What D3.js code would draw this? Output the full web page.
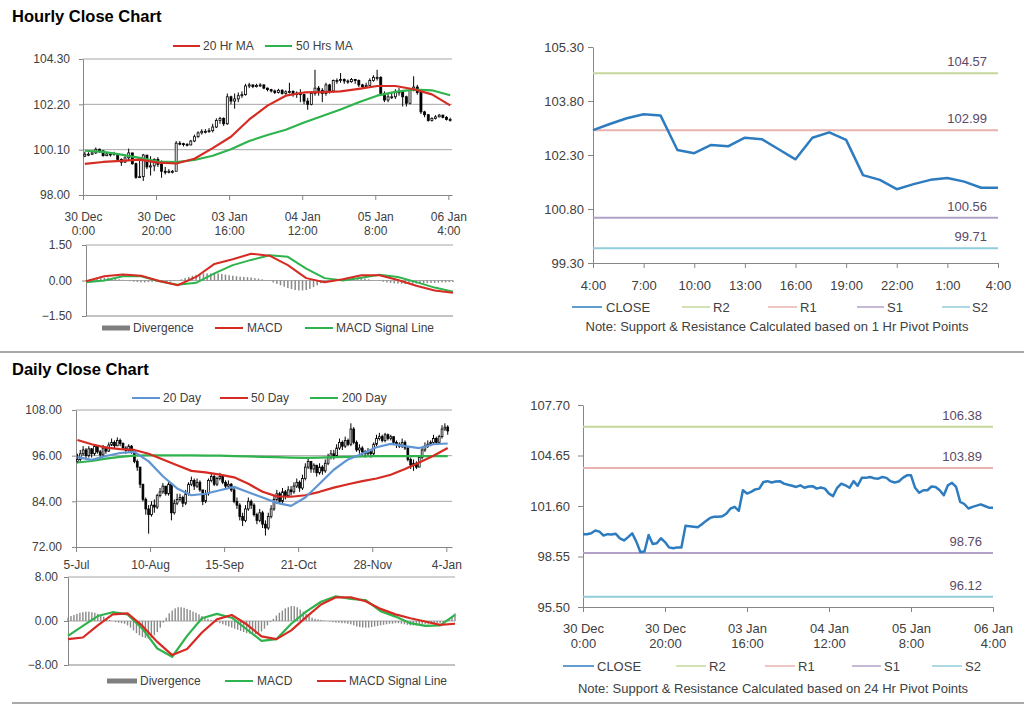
<!DOCTYPE html>
<html><head><meta charset="utf-8">
<script src="https://cdn.jsdelivr.net/npm/d3@7/dist/d3.min.js"></script>
<style>body{margin:0;background:#fff;} svg{display:block;}</style>
</head><body><svg id="c" width="1024" height="706"></svg>
<script>
// ---------------- DATA ----------------
// Hourly bars (30 Dec 0:00 -> 06 Jan 4:00), 101 bars
const hourTickIdx = [0, 20, 40, 60, 80, 100];
const hourTickLine1 = ["30 Dec", "30 Dec", "03 Jan", "04 Jan", "05 Jan", "06 Jan"];
const hourTickLine2 = ["0:00", "20:00", "16:00", "12:00", "8:00", "4:00"];
const hourlyFirstOpen = 99.80;
const hourlyClose = [99.89,99.89,99.95,100.12,100.05,99.82,99.9,99.88,99.92,99.65,
99.52,99.72,99.95,99.45,98.82,98.85,99.85,99.3,99.35,99.65,
99.42,99.1,99.05,99.1,99.1,100.4,100.38,100.35,100.32,100.5,
100.7,100.88,100.95,100.95,100.98,101.15,101.45,101.55,101.3,102.55,
102.35,102.45,102.6,102.65,103.05,103.1,103.02,103.08,103.1,102.95,
102.88,102.82,102.75,102.85,102.7,102.78,102.8,102.65,102.72,102.65,
102.35,102.2,102.7,102.95,102.85,102.7,103.1,102.82,103.3,103.3,
103.35,103.28,103.25,103.35,103.3,103.1,103.02,103.08,103.3,103.45,
103.45,102.7,102.4,102.55,102.55,102.78,102.75,102.55,102.25,102.85,
103.0,102.75,101.85,101.72,101.45,101.55,101.62,101.7,101.6,101.5,
101.5];
const hourlyHigh = [100.0,99.98,100.05,100.2,100.15,100.05,99.98,99.95,100.0,99.92,
99.7,99.8,100.15,99.95,99.5,99.7,99.9,99.85,99.8,99.7,
99.75,99.6,99.3,99.2,99.15,100.5,100.5,100.42,100.4,100.55,
100.8,100.95,101.05,101.05,101.1,101.3,101.55,101.62,101.6,102.7,
102.6,102.7,102.75,102.8,103.15,103.2,103.12,103.15,103.18,103.12,
102.98,102.92,102.88,102.92,102.9,102.85,103.2,102.85,102.8,102.9,
102.7,102.5,102.8,103.8,103.05,102.95,103.2,103.15,103.35,103.4,
103.65,103.4,103.35,103.42,103.38,103.35,103.15,103.2,103.4,103.55,
103.8,103.5,102.8,102.7,102.75,102.9,102.95,102.8,102.6,102.95,
103.5,103.1,102.8,101.9,101.75,101.6,101.7,101.75,101.72,101.65,
101.58];
const hourlyLow = [99.75,99.8,99.85,99.9,99.95,99.78,99.8,99.78,99.82,99.6,
99.35,99.5,99.6,99.4,98.75,98.8,98.65,99.2,98.9,99.1,
99.3,98.8,98.95,99.0,99.0,100.0,100.3,100.25,100.25,100.3,
100.45,100.65,100.8,100.85,100.88,100.9,101.1,101.3,101.2,101.25,
102.2,102.0,102.3,102.5,102.6,102.95,102.95,102.98,103.0,102.9,
102.8,102.75,102.68,102.7,102.65,102.65,102.7,102.55,102.5,102.3,
102.2,101.95,102.15,102.6,102.6,102.3,102.6,102.7,102.75,103.15,
103.2,103.15,103.15,103.2,103.15,103.0,102.95,102.98,103.05,103.25,
103.3,102.6,102.3,102.3,102.45,102.45,102.6,102.1,102.1,102.2,
102.8,102.65,101.75,101.6,101.4,101.4,101.5,101.6,101.55,101.45,
101.4];
// moving averages sampled every 5 bars
const hourlyMaIdx = [0,5,10,15,20,25,30,35,40,45,50,55,60,65,70,75,80,85,90,95,100];
const hourlyMa20 = [99.44,99.53,99.58,99.64,99.5,99.46,99.68,100.17,100.7,101.5,102.14,102.6,102.75,102.77,102.8,102.92,103.05,103.05,102.9,102.66,102.15];
const hourlyMa50 = [100.05,100.0,99.87,99.72,99.55,99.52,99.62,99.82,100.12,100.5,100.78,101.02,101.36,101.66,101.96,102.3,102.6,102.78,102.88,102.85,102.62];
const hourlyMacd = [-0.03,0.18,0.25,0.2,-0.02,-0.2,0.15,0.7,0.9,1.13,1.05,0.65,0.1,-0.07,0.05,0.22,0.22,0.02,-0.22,-0.42,-0.52];
const hourlySignal = [-0.07,0.0,0.18,0.18,-0.03,-0.18,-0.1,0.3,0.65,0.87,1.07,1.0,0.5,0.1,0.0,0.12,0.24,0.15,-0.07,-0.3,-0.47];
const hourlyDiverg = [0.02,0.04,0.06,0.08,0.1,0.12,0.12,0.1,0.08,0.05,
0.03,0.0,-0.03,-0.05,-0.07,-0.08,-0.08,-0.07,-0.06,-0.05,
-0.05,-0.06,-0.07,-0.05,-0.03,0.0,0.05,0.1,0.15,0.2,
0.24,0.28,0.3,0.3,0.3,0.32,0.3,0.28,0.25,0.22,
0.2,0.18,0.16,0.15,0.14,0.13,0.1,0.08,0.05,0.02,
-0.02,-0.08,-0.14,-0.2,-0.26,-0.32,-0.36,-0.4,-0.42,-0.42,
-0.4,-0.35,-0.28,-0.2,-0.12,-0.06,-0.02,0.0,0.02,0.04,
0.06,0.08,0.09,0.1,0.1,0.1,0.08,0.05,0.02,0.0,
-0.02,-0.05,-0.08,-0.1,-0.12,-0.13,-0.14,-0.15,-0.15,-0.14,
-0.13,-0.12,-0.12,-0.11,-0.1,-0.1,-0.09,-0.08,-0.08,-0.07,
-0.06];
const hourlyYTicks = [98.00, 100.10, 102.20, 104.30];
const hourlyMacdTicks = [-1.50, 0.00, 1.50];

// 1-hour pivot chart (04:00 -> 04:00)
const pivotHourLabels = ["4:00","7:00","10:00","13:00","16:00","19:00","22:00","1:00","4:00"];
const pivotHourClose = [102.99,103.16,103.32,103.43,103.40,102.44,102.35,102.58,102.54,102.78,102.74,102.46,102.18,102.78,102.93,102.72,101.74,101.61,101.35,101.49,101.61,101.66,101.56,101.39,101.39];
const pivotHourYTicks = [99.30, 100.80, 102.30, 103.80, 105.30];
const pivotHourLevels = [104.57, 102.99, 100.56, 99.71];

// 24-hour pivot chart (same hourly closes)
const pivotDayYTicks = [95.50, 98.55, 101.60, 104.65, 107.70];
const pivotDayLevels = [106.38, 103.89, 98.76, 96.12];
const levelNames = ["R2", "R1", "S1", "S2"];

// Daily bars (5-Jul -> 4-Jan), 131 bars
const dayTickIdx = [0, 26, 52, 78, 104, 130];
const dayTickLabels = ["5-Jul", "10-Aug", "15-Sep", "21-Oct", "28-Nov", "4-Jan"];
const dailyFirstOpen = 94.5;
const dailyClose = [95.0,96.5,97.5,96.0,97.8,96.5,98.5,97.0,96.2,98.0,
97.2,98.8,99.5,98.6,100.0,99.2,98.0,97.4,98.5,97.0,
94.5,93.0,88.5,84.5,82.0,80.5,83.0,82.5,85.5,86.5,
88.0,86.0,88.5,81.0,83.5,84.5,85.0,83.5,86.0,88.5,
89.5,88.0,89.0,87.0,84.0,86.0,89.5,90.5,88.5,90.0,
90.5,89.0,88.0,88.5,87.0,84.0,83.0,80.0,79.0,82.0,
84.0,83.0,80.5,79.0,81.0,78.0,77.0,80.0,82.0,84.5,
86.0,84.0,86.5,85.5,87.0,86.5,88.0,89.0,87.5,90.0,
93.0,94.5,92.5,93.5,91.5,93.0,92.0,94.0,95.5,96.5,
96.0,98.0,99.5,98.5,100.0,99.0,103.0,99.5,97.5,98.0,
97.0,96.5,97.0,96.5,99.0,100.5,101.0,100.0,101.5,100.5,
101.0,99.5,99.0,98.5,99.5,98.0,95.0,93.5,94.0,93.0,
95.5,97.5,98.5,99.0,99.5,100.5,99.5,101.0,103.0,103.5,
102.5];
const dailyHigh = [96.5,97.5,98.5,98.0,98.5,98.0,99.0,98.8,97.5,98.8,
98.5,99.5,100.5,100.0,100.8,100.5,99.5,98.5,99.0,98.8,
97.0,95.0,93.0,88.5,85.0,83.0,84.0,84.5,86.0,87.5,
88.8,88.0,89.5,88.0,84.5,86.0,86.0,85.5,87.0,89.0,
90.5,90.0,90.0,89.5,87.0,87.0,90.0,91.5,91.0,90.5,
91.5,91.0,89.5,89.5,88.8,87.5,85.0,83.5,81.0,83.0,
85.0,84.5,83.5,81.0,82.0,81.5,79.0,81.0,83.0,85.5,
87.0,86.5,87.5,87.0,88.0,88.0,89.0,90.0,89.5,91.0,
94.0,95.5,94.5,94.0,93.5,94.0,93.5,95.0,96.5,97.5,
97.5,99.0,100.5,100.0,101.0,100.5,104.5,103.5,100.0,99.0,
98.5,97.5,98.0,97.5,99.5,101.5,102.0,101.5,102.0,101.8,
101.5,101.0,100.0,99.5,100.5,100.0,98.5,95.5,95.0,94.5,
96.0,98.0,99.5,100.0,100.0,101.5,101.0,101.5,104.0,104.5,
104.0];
const dailyLow = [94.0,94.5,96.0,95.0,95.5,95.5,96.0,96.5,95.0,96.0,
96.5,97.0,98.5,98.0,98.5,98.5,97.5,96.5,97.0,96.5,
94.0,92.0,87.5,84.0,80.5,75.5,80.0,81.0,82.0,85.0,
86.0,85.5,85.5,79.0,80.5,83.0,84.0,82.5,83.0,85.5,
88.0,87.0,87.5,86.5,83.0,83.5,85.5,89.0,88.0,88.0,
89.5,88.5,87.5,87.5,86.5,83.5,82.0,79.0,77.5,78.5,
81.5,82.0,80.0,78.0,78.5,77.0,75.0,76.5,79.5,81.5,
84.0,83.5,83.5,84.5,85.0,85.5,86.0,87.5,86.5,87.0,
89.5,92.5,91.5,91.5,90.5,91.0,91.0,91.5,93.5,95.0,
95.0,95.5,97.5,97.5,98.0,98.5,98.5,99.0,97.0,96.5,
96.0,95.5,96.0,95.5,96.0,98.5,100.0,99.5,99.5,100.0,
100.0,99.0,98.0,98.0,98.0,97.5,94.5,92.5,92.0,92.5,
93.0,95.0,97.0,98.0,98.5,99.0,99.0,99.0,100.5,102.5,
101.5];
const dailyMaIdx = [0,5,10,15,20,25,30,35,40,45,50,55,60,65,70,75,80,85,90,95,100,105,110,115,120,125,130];
const dailyMa20 = [95.6,94.9,95.9,96.7,97.0,94.5,90.6,87.4,85.6,86.0,86.9,87.8,86.4,85.0,83.6,82.8,85.0,88.6,92.3,95.0,96.5,98.2,99.1,98.5,98.0,99.0,99.2];
const dailyMa50 = [100.1,99.0,98.1,97.7,97.5,96.5,95.0,93.5,92.0,91.6,91.0,90.3,88.6,86.5,85.3,85.2,85.6,86.5,87.6,88.5,89.3,90.0,91.0,92.5,94.2,96.0,98.0];
const dailyMa200 = [94.2,94.6,95.2,95.7,96.0,96.1,96.1,96.1,96.1,96.0,96.0,95.9,95.8,95.7,95.6,95.5,95.4,95.5,95.6,95.7,95.8,95.9,95.9,95.9,95.9,95.9,95.9];
const dailyMacd = [-2.7,-0.9,0.9,1.6,1.2,-1.4,-5.0,-6.5,-2.7,0.5,1.3,0.6,-1.5,-3.6,-3.3,-0.5,1.7,3.5,4.5,4.0,3.8,1.8,0.8,-0.4,-0.9,-0.8,1.1];
const dailySignal = [-3.3,-3.0,-0.8,1.2,1.4,-0.9,-3.8,-6.2,-5.1,-2.1,0.3,1.1,-0.6,-2.8,-3.3,-1.7,0.7,3.0,4.3,4.3,3.6,2.2,1.2,0.5,-0.1,-0.7,-0.5];
const dailyDiverg = [0.6,0.9,1.1,1.3,1.5,1.6,1.7,1.7,1.6,1.5,
1.3,1.1,0.8,0.5,0.2,0.0,-0.2,-0.3,-0.4,-0.5,
-0.8,-1.2,-1.7,-2.2,-2.6,-2.9,-3.1,-3.2,-3.0,-2.6,
-2.0,-1.2,-0.3,0.6,1.4,1.9,2.3,2.5,2.5,2.4,
2.2,2.0,1.7,1.5,1.2,0.9,0.6,0.4,0.2,0.0,
-0.2,-0.4,-0.6,-0.8,-1.0,-1.2,-1.4,-1.6,-1.8,-2.0,
-2.2,-2.3,-2.4,-2.4,-2.2,-1.9,-1.4,-0.8,-0.2,0.4,
1.0,1.5,1.9,2.3,2.5,2.7,2.7,2.5,2.1,1.7,
1.3,0.9,0.6,0.4,0.3,0.2,0.1,0.0,-0.1,-0.2,
-0.3,-0.3,-0.4,-0.4,-0.5,-0.6,-0.8,-1.0,-1.1,-1.2,
-1.2,-1.2,-1.1,-1.0,-0.9,-0.8,-0.7,-0.6,-0.5,-0.5,
-0.4,-0.4,-0.5,-0.6,-0.7,-0.8,-0.8,-0.8,-0.7,-0.7,
-0.6,-0.6,-0.5,-0.5,-0.4,-0.4,-0.3,-0.2,0.2,0.8,
1.4];
const dailyYTicks = [72.00, 84.00, 96.00, 108.00];
const dailyMacdTicks = [-8.00, 0.00, 8.00];

// ---------------- STYLE ----------------
const FONT = '"Liberation Sans", Arial, sans-serif';
const TXT = '#404040';
const LVL_TXT = '#5a4a68';
const AX = '#868686';
const GRID = '#a6a6a6';
const RED = '#d62b22';
const GREEN = '#2fb34c';
const BLUE = '#2e7cc0';
const LBLUE = '#5f95d3';
const DIV = '#8a8a8a';
const levelColors = ['#c4d79b', '#e8b3ae', '#b3a2c7', '#92cddc'];

const svg = d3.select('#c').attr('font-family', FONT);
svg.append('rect').attr('width', 1024).attr('height', 706).attr('fill', '#fff');

function styleAxis(g, fs) {
  g.selectAll('path.domain').attr('stroke', AX).attr('stroke-width', 1);
  g.selectAll('.tick line').attr('stroke', AX);
  g.selectAll('.tick text').attr('font-size', fs).attr('fill', TXT).attr('font-family', FONT);
}
function grid(y, vals, x0, x1) {
  svg.append('g').selectAll('line').data(vals).join('line')
    .attr('x1', x0).attr('x2', x1).attr('y1', d => y(d)).attr('y2', d => y(d))
    .attr('stroke', GRID).attr('stroke-width', 1);
}
function legLine(x1, x2, y, color, text, tx, fs, w) {
  svg.append('line').attr('x1', x1).attr('x2', x2).attr('y1', y).attr('y2', y)
    .attr('stroke', color).attr('stroke-width', w || 2);
  svg.append('text').attr('x', tx).attr('y', y + fs * 0.36).attr('font-size', fs)
    .attr('fill', TXT).text(text);
}
function legBar(x1, x2, y, text, tx, fs) {
  svg.append('rect').attr('x', x1).attr('y', y - 2.5).attr('width', x2 - x1).attr('height', 5).attr('fill', '#7f7f7f');
  svg.append('text').attr('x', tx).attr('y', y + fs * 0.36).attr('font-size', fs).attr('fill', TXT).text(text);
}
function leftAxis(y, x, ticks, fs, pad) {
  const g = svg.append('g').attr('transform', `translate(${x},0)`)
    .call(d3.axisLeft(y).tickValues(ticks).tickFormat(d3.format('.2f')).tickSize(4).tickSizeOuter(0).tickPadding(pad));
  styleAxis(g, fs);
  return g;
}
function candles(x, y, open, high, low, close, bw) {
  const g = svg.append('g');
  close.forEach((c, i) => {
    const o = open[i];
    const cx = x(i + 0.5);
    g.append('line').attr('x1', cx).attr('x2', cx).attr('y1', y(high[i])).attr('y2', y(low[i]))
      .attr('stroke', '#000').attr('stroke-width', 1);
    const top = y(Math.max(o, c)), bot = y(Math.min(o, c));
    g.append('rect').attr('x', cx - bw / 2).attr('y', top).attr('width', bw)
      .attr('height', Math.max(1, bot - top))
      .attr('fill', c >= o ? '#fff' : '#000').attr('stroke', '#000').attr('stroke-width', 0.8);
  });
}
function path(xf, yf, idx, vals, color, w) {
  svg.append('path').datum(vals)
    .attr('d', d3.line().x((d, i) => xf(idx[i])).y(d => yf(d)))
    .attr('fill', 'none').attr('stroke', color).attr('stroke-width', w).attr('stroke-linejoin', 'round');
}

// ---------------- TITLES & SEPARATORS ----------------
svg.append('text').attr('x', 12).attr('y', 22).attr('font-size', 16.5).attr('font-weight', 'bold').attr('fill', '#000').text('Hourly Close Chart');
svg.append('text').attr('x', 12).attr('y', 375).attr('font-size', 16.5).attr('font-weight', 'bold').attr('fill', '#000').text('Daily Close Chart');
svg.append('line').attr('x1', 0).attr('x2', 1024).attr('y1', 352).attr('y2', 352).attr('stroke', '#8c8c8c').attr('stroke-width', 1.5);
svg.append('line').attr('x1', 12).attr('x2', 1024).attr('y1', 703).attr('y2', 703).attr('stroke', '#8c8c8c').attr('stroke-width', 1.5);

// ---------------- HOURLY CANDLES (top-left) ----------------
{
  const x = d3.scaleLinear().domain([0, 101]).range([83, 452]);
  const y = d3.scaleLinear().domain([98, 104.3]).range([195, 59]);
  grid(y, hourlyYTicks.slice(1), 83, 452);
  leftAxis(y, 83, hourlyYTicks, 12, 9);
  const gb = svg.append('g').attr('transform', 'translate(0,195)')
    .call(d3.axisBottom(x).tickValues(hourTickIdx).tickSize(5).tickSizeOuter(0).tickFormat(''));
  styleAxis(gb, 12);
  gb.selectAll('.tick').append('text').attr('text-anchor', 'middle').attr('font-size', 12).attr('fill', TXT)
    .each(function (d, i) {
      const t = d3.select(this);
      t.append('tspan').attr('x', 0).attr('y', 26).text(hourTickLine1[i]);
      t.append('tspan').attr('x', 0).attr('y', 40).text(hourTickLine2[i]);
    });
  const open = hourlyClose.map((c, i) => i === 0 ? hourlyFirstOpen : hourlyClose[i - 1]);
  candles(x, y, open, hourlyHigh, hourlyLow, hourlyClose, 2);
  const xm = i => x(i + 0.5);
  path(xm, y, hourlyMaIdx, hourlyMa50, GREEN, 2.2);
  path(xm, y, hourlyMaIdx, hourlyMa20, RED, 2.2);
  legLine(173, 200, 46, RED, '20 Hr MA', 203, 12);
  legLine(265, 292, 46, GREEN, '50 Hrs MA', 296, 12);
}
// ---------------- HOURLY MACD ----------------
{
  const x = d3.scaleLinear().domain([0, 100]).range([86, 453]);
  const y = d3.scaleLinear().domain([-1.5, 1.5]).range([316, 245]);
  grid(y, [0, 1.5], 86, 453);
  leftAxis(y, 86, hourlyMacdTicks, 12, 10);
  svg.append('line').attr('x1', 86).attr('x2', 453).attr('y1', 316).attr('y2', 316).attr('stroke', AX);
  svg.append('g').selectAll('rect').data(hourlyDiverg).join('rect')
    .attr('x', (d, i) => x(i) - 0.75).attr('width', 1.5)
    .attr('y', d => Math.min(y(d), y(0))).attr('height', d => Math.abs(y(d) - y(0)))
    .attr('fill', DIV);
  path(x, y, hourlyMaIdx, hourlySignal, GREEN, 2);
  path(x, y, hourlyMaIdx, hourlyMacd, RED, 2);
  legBar(102, 130, 328, 'Divergence', 133, 12);
  legLine(215, 243, 328, RED, 'MACD', 247, 12);
  legLine(305, 333, 328, GREEN, 'MACD Signal Line', 336, 12);
}

// ---------------- PIVOT CHART helper ----------------
function pivotChart(o) {
  const x = d3.scaleLinear().domain([0, o.n - 1]).range([o.x0, o.x1]);
  const y = d3.scaleLinear().domain([o.yTicks[0], o.yTicks[o.yTicks.length - 1]]).range([o.y1, o.y0]);
  const gl = svg.append('g').attr('transform', `translate(${o.x0},0)`)
    .call(d3.axisLeft(y).tickValues(o.yTicks).tickFormat(d3.format('.2f')).tickSize(5).tickSizeOuter(0).tickPadding(o.ypad));
  styleAxis(gl, o.fs);
  const gb = svg.append('g').attr('transform', `translate(0,${o.y1})`)
    .call(d3.axisBottom(x).tickValues(o.xTickIdx).tickSize(5).tickSizeOuter(0).tickFormat(''));
  styleAxis(gb, o.fs);
  gb.selectAll('.tick').append('text').attr('text-anchor', 'middle').attr('font-size', o.fs).attr('fill', TXT)
    .each(function (d, i) {
      const t = d3.select(this);
      o.xLabels.forEach((arr, k) => t.append('tspan').attr('x', 0).attr('y', o.xLabY + k * 15).text(arr[i]));
    });
  svg.append('g').selectAll('line').data(o.levels).join('line')
    .attr('x1', o.x0).attr('x2', o.x1).attr('y1', d => y(d)).attr('y2', d => y(d))
    .attr('stroke', (d, i) => levelColors[i]).attr('stroke-width', 2);
  svg.append('g').selectAll('text').data(o.levels).join('text')
    .attr('x', o.x1 - 11).attr('y', d => y(d) - 7).attr('text-anchor', 'end')
    .attr('font-size', o.fs).attr('fill', LVL_TXT).text(d => d.toFixed(2));
  path(x, y, d3.range(o.close.length), o.close, BLUE, 2.5);
  // legend
  const L = o.leg;
  legLine(L[0][0], L[0][1], o.legY, BLUE, 'CLOSE', L[0][2], o.fs, 1.5);
  levelNames.forEach((nm, i) => legLine(L[i + 1][0], L[i + 1][1], o.legY, levelColors[i], nm, L[i + 1][2], o.fs, 1.5));
  svg.append('text').attr('x', o.noteX).attr('y', o.noteY).attr('text-anchor', 'middle')
    .attr('font-size', o.fs).attr('fill', TXT).text(o.note);
}

pivotChart({
  n: 25, x0: 593, x1: 998, y0: 47, y1: 263, yTicks: pivotHourYTicks, ypad: 4, fs: 13,
  xTickIdx: [0, 3, 6, 9, 12, 15, 18, 21, 24], xLabels: [pivotHourLabels], xLabY: 27,
  levels: pivotHourLevels, close: pivotHourClose,
  legY: 307, leg: [[572, 602, 606], [682, 710, 713], [768, 797, 800], [857, 884, 887], [942, 970, 972]],
  noteX: 777, noteY: 331, note: 'Note: Support & Resistance Calculated based on 1 Hr Pivot Points'
});
pivotChart({
  n: 101, x0: 583, x1: 993, y0: 405, y1: 607, yTicks: pivotDayYTicks, ypad: 8, fs: 13,
  xTickIdx: hourTickIdx, xLabels: [hourTickLine1, hourTickLine2], xLabY: 26,
  levels: pivotDayLevels, close: hourlyClose,
  legY: 666, leg: [[563, 594, 597], [676, 706, 709], [765, 795, 798], [852, 881, 884], [932, 962, 965]],
  noteX: 773, noteY: 693, note: 'Note:  Support & Resistance Calculated based on 24 Hr Pivot Points'
});

// ---------------- DAILY CANDLES (bottom-left) ----------------
{
  const x = d3.scaleLinear().domain([0, 132]).range([76, 452]);
  const y = d3.scaleLinear().domain([72, 108]).range([547, 410]);
  grid(y, dailyYTicks.slice(1), 76, 452);
  leftAxis(y, 76, dailyYTicks, 12, 10);
  const gb = svg.append('g').attr('transform', 'translate(0,547)')
    .call(d3.axisBottom(x).tickValues(dayTickIdx).tickSize(5).tickSizeOuter(0).tickFormat(''));
  styleAxis(gb, 12);
  gb.selectAll('.tick').append('text').attr('text-anchor', 'middle').attr('font-size', 12).attr('fill', TXT)
    .attr('y', 22).text((d, i) => dayTickLabels[i]);
  const open = dailyClose.map((c, i) => i === 0 ? dailyFirstOpen : dailyClose[i - 1]);
  candles(x, y, open, dailyHigh, dailyLow, dailyClose, 1.8);
  const xm = i => x(i + 0.5);
  path(xm, y, dailyMaIdx, dailyMa200, GREEN, 2.2);
  path(xm, y, dailyMaIdx, dailyMa50, RED, 2.2);
  path(xm, y, dailyMaIdx, dailyMa20, LBLUE, 2.2);
  legLine(132, 160, 398, LBLUE, '20 Day', 163, 12);
  legLine(220, 248, 398, RED, '50 Day', 251, 12);
  legLine(310, 338, 398, GREEN, '200 Day', 342, 12);
}
// ---------------- DAILY MACD ----------------
{
  const x = d3.scaleLinear().domain([0, 130]).range([68, 455]);
  const y = d3.scaleLinear().domain([-8, 8]).range([665, 577]);
  grid(y, [0, 8], 68, 455);
  leftAxis(y, 68, dailyMacdTicks, 12, 6);
  svg.append('line').attr('x1', 68).attr('x2', 455).attr('y1', 665).attr('y2', 665).attr('stroke', AX);
  svg.append('g').selectAll('rect').data(dailyDiverg).join('rect')
    .attr('x', (d, i) => x(i) - 0.7).attr('width', 1.4)
    .attr('y', d => Math.min(y(d), y(0))).attr('height', d => Math.abs(y(d) - y(0)))
    .attr('fill', DIV);
  path(x, y, dailyMaIdx, dailyMacd, GREEN, 2.2);
  path(x, y, dailyMaIdx, dailySignal, RED, 2.2);
  legBar(107, 137, 681, 'Divergence', 140, 12);
  legLine(225, 253, 681, GREEN, 'MACD', 257, 12);
  legLine(317, 346, 681, RED, 'MACD Signal Line', 349, 12);
}
</script></body></html>
